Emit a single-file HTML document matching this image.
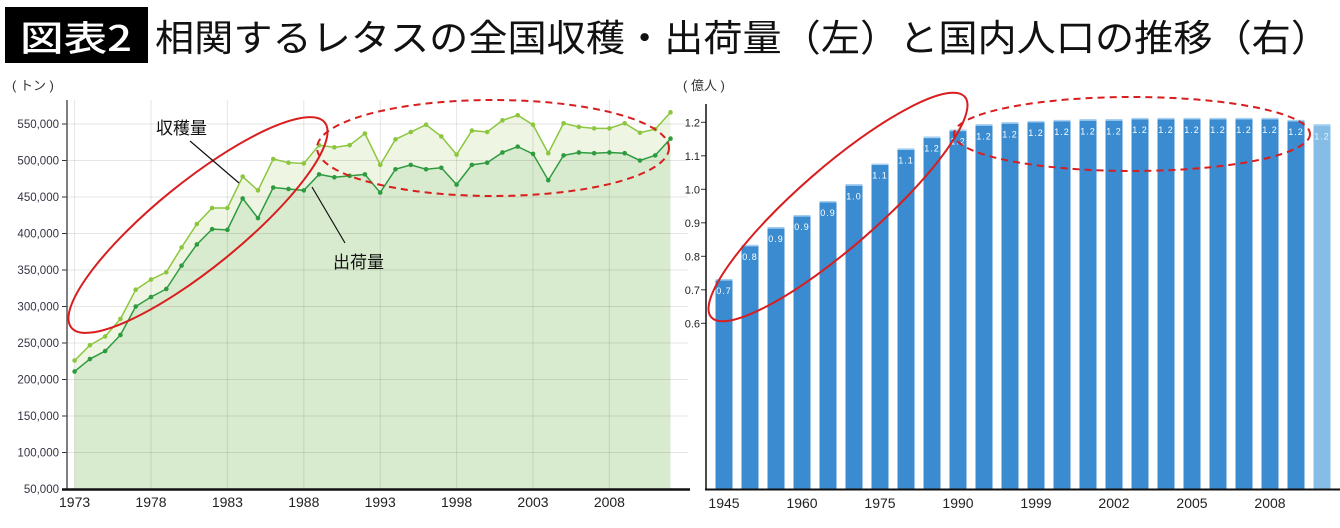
<!DOCTYPE html>
<html><head><meta charset="utf-8">
<style>
html,body{margin:0;padding:0;background:#fff;}
svg{display:block;font-family:"Liberation Sans","Noto Sans CJK JP",sans-serif;}
</style></head>
<body>
<svg id="root" width="1340" height="528" viewBox="0 0 1340 528" xmlns="http://www.w3.org/2000/svg">
  <rect x="5" y="7" width="143" height="56" fill="#000"/>
  <text x="76" y="51" text-anchor="middle" fill="#fff" font-size="35" font-weight="500" font-family="'Noto Sans CJK JP',sans-serif" textLength="112" lengthAdjust="spacingAndGlyphs">図表2</text>
  <text x="155" y="51" fill="#111" font-size="37" font-weight="400" font-family="'Noto Sans CJK JP',sans-serif" textLength="1175" lengthAdjust="spacingAndGlyphs">相関するレタスの全国収穫・出荷量（左）と国内人口の推移（右）</text>
  <g id="left"></g>
  <g id="right"></g>
</svg>
<script>
// ---- Left chart data ----
const years = [];
for (let y = 1973; y <= 2012; y++) years.push(y);
const harvest = [226,247,259,283,323,337,347,381,413,435,435,478,459,502,497,496,521,518,521,537,494,529,539,549,533,508,541,539,555,562,549,510,551,546,544,544,551,538,543,566];
const shipment = [211,228,239,261,300,313,324,356,385,406,405,448,421,463,461,459,481,477,479,481,456,488,494,488,490,467,494,497,511,519,509,473,507,511,510,511,510,500,507,530];
const yTicksLeft = [50000,100000,150000,200000,250000,300000,350000,400000,450000,500000,550000];
const xLabelsLeft = [1973,1978,1983,1988,1993,1998,2003,2008];

// ---- Right chart data ----
const popBars = [0.732,0.834,0.887,0.923,0.965,1.015,1.077,1.122,1.157,1.178,1.194,1.200,1.204,1.207,1.209,1.209,1.213,1.213,1.213,1.213,1.213,1.213,1.207,1.194];
const popLabels = ["0.7","0.8","0.9","0.9","0.9","1.0","1.1","1.1","1.2","1.2","1.2","1.2","1.2","1.2","1.2","1.2","1.2","1.2","1.2","1.2","1.2","1.2","1.2","1.2"];
const yTicksRight = [0.6,0.7,0.8,0.9,1.0,1.1,1.2];
const xLabelsRight = ["1945","1960","1975","1990","1999","2002","2005","2008"];
const xLabelIdxRight = [0,3,6,9,12,15,18,21];

const NS = "http://www.w3.org/2000/svg";
function mk(tag, attrs, parent, text) {
  const e = document.createElementNS(NS, tag);
  for (const k in attrs) e.setAttribute(k, attrs[k]);
  if (text !== undefined) e.textContent = text;
  parent.appendChild(e);
  return e;
}
const L = document.getElementById('left');
const R = document.getElementById('right');

const xL = y => 74.6 + (y - 1973) * 15.28;
const yL = v => 489 - (v - 50000) * 0.00073;

let t = mk('text', {x: 12, y: 90, 'font-size': 13, fill: '#333'}, L, '( トン )');



const hPts = years.map((y, i) => xL(y) + ',' + yL(harvest[i] * 1000)).join(' ');
const sPts = years.map((y, i) => xL(y) + ',' + yL(shipment[i] * 1000)).join(' ');
const x0 = xL(years[0]), x1 = xL(years[years.length - 1]);
let a = mk('polygon', {points: x0 + ',489 ' + hPts + ' ' + x1 + ',489', fill: '#eef5e3'}, L);


a = mk('polygon', {points: x0 + ',489 ' + sPts + ' ' + x1 + ',489', fill: '#d9ebcf'}, L);



yTicksLeft.forEach(v => {
  const g = mk('line', {x1: 67, x2: 688, y1: yL(v), y2: yL(v), stroke: '#000', 'stroke-opacity': 0.1, 'stroke-width': 1}, L);
  
  
  const tk = mk('line', {x1: 62, x2: 67, y1: yL(v), y2: yL(v), stroke: '#333'}, L);
  
  
  const lb = mk('text', {x: 59, y: yL(v) + 4, 'text-anchor': 'end', 'font-size': 11.5, fill: '#334'}, L, v.toLocaleString('en-US'));
  
  
});
xLabelsLeft.forEach(y => {
  const g = mk('line', {x1: xL(y), x2: xL(y), y1: 100, y2: 489, stroke: '#000', 'stroke-opacity': 0.1}, L);
  
  
  const lb = mk('text', {x: xL(y), y: 507, 'text-anchor': 'middle', 'font-size': 14, fill: '#222'}, L, String(y));
  
  
});
let ax = mk('line', {x1: 67, x2: 67, y1: 100, y2: 490, stroke: '#555', 'stroke-width': 1.5}, L);


ax = mk('line', {x1: 62, x2: 690, y1: 489.5, y2: 489.5, stroke: '#111', 'stroke-width': 2.5}, L);



let ln = mk('polyline', {points: hPts, fill: 'none', stroke: '#8cc63f', 'stroke-width': 1.5}, L);


ln = mk('polyline', {points: sPts, fill: 'none', stroke: '#2e9b3f', 'stroke-width': 1.5}, L);


years.forEach((y, i) => {
  const p = mk('circle', {cx: xL(y), cy: yL(harvest[i] * 1000), r: 2.3, fill: '#8cc63f'}, L);
  
  
  const q = mk('circle', {cx: xL(y), cy: yL(shipment[i] * 1000), r: 2.3, fill: '#2e9b3f'}, L);
  
  
});

let e = mk('ellipse', {cx: 198, cy: 225, rx: 163, ry: 43, transform: 'rotate(-39 198 225)', fill: 'none', stroke: '#d81e1e', 'stroke-width': 2}, L);


e = mk('ellipse', {cx: 493, cy: 148, rx: 176, ry: 48, fill: 'none', stroke: '#d81e1e', 'stroke-width': 2, 'stroke-dasharray': '7,5'}, L);


t = mk('text', {x: 156, y: 134, 'font-size': 17, fill: '#111'}, L, '収穫量');


t = mk('line', {x1: 190, y1: 141, x2: 239, y2: 183, stroke: '#111', 'stroke-width': 1.2}, L);


t = mk('text', {x: 333, y: 268, 'font-size': 17, fill: '#111'}, L, '出荷量');


t = mk('line', {x1: 312, y1: 187, x2: 345, y2: 243, stroke: '#111', 'stroke-width': 1.2}, L);



// ---- Right chart ----
const xR = i => 724 + i * 26;
const yR = v => 122.3 + (1.2 - v) * 335;
const BASE = 489;
t = mk('text', {x: 683, y: 90, 'font-size': 13, fill: '#333'}, R, '( 億人 )');


popBars.forEach((v, i) => {
  const last = i === popBars.length - 1;
  const b = mk('rect', {x: xR(i) - 8.5, y: yR(v), width: 17, height: BASE - yR(v), fill: last ? '#85bde6' : '#3a8bd0'}, R);
  
  
  const top = mk('rect', {x: xR(i) - 8.5, y: yR(v), width: 17, height: 1.5, fill: '#a9d2f2'}, R);
  
  
  const lb = mk('text', {x: xR(i), y: yR(v) + 15, 'text-anchor': 'middle', 'font-size': 9, fill: last ? '#e8f3fb' : '#fff', 'letter-spacing': 1}, R, popLabels[i]);
  
  
});
yTicksRight.forEach(v => {
  const tk = mk('line', {x1: 701, x2: 706, y1: yR(v), y2: yR(v), stroke: '#333'}, R);
  
  
  const lb = mk('text', {x: 700, y: yR(v) + 4, 'text-anchor': 'end', 'font-size': 11, fill: '#222'}, R, v.toFixed(1));
  
  
});
xLabelsRight.forEach((s, k) => {
  const lb = mk('text', {x: xR(xLabelIdxRight[k]), y: 508, 'text-anchor': 'middle', 'font-size': 14, fill: '#222'}, R, s);
  
  
});
ax = mk('line', {x1: 706, x2: 706, y1: 104, y2: 490, stroke: '#111', 'stroke-width': 1.5}, R);


ax = mk('line', {x1: 705, x2: 1340, y1: 489.5, y2: 489.5, stroke: '#111', 'stroke-width': 2}, R);


e = mk('ellipse', {cx: 838, cy: 207, rx: 168, ry: 40, transform: 'rotate(-41 838 207)', fill: 'none', stroke: '#d81e1e', 'stroke-width': 2}, R);


e = mk('ellipse', {cx: 1132, cy: 134, rx: 178, ry: 37, fill: 'none', stroke: '#d81e1e', 'stroke-width': 2, 'stroke-dasharray': '7,5'}, R);


</script>
</body></html>
